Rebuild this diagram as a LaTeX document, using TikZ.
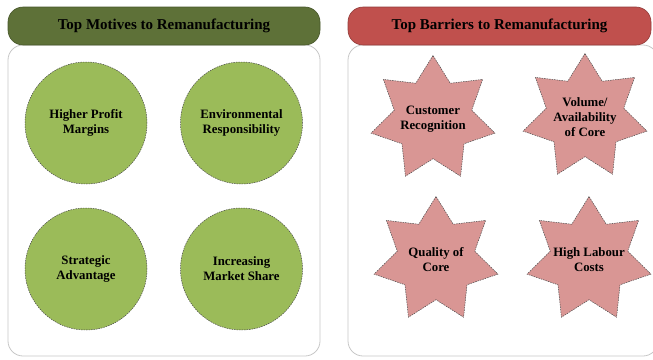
\documentclass[tikz,border=0pt]{standalone}
\usepackage{fontspec}
\setmainfont{Liberation Serif}
\usepackage{xcolor}
\usepackage{tikz}
\usetikzlibrary{shapes.geometric}

\definecolor{motivebar}{RGB}{94,113,56}
\definecolor{barrierbar}{RGB}{192,80,77}
\definecolor{motivefill}{RGB}{155,187,89}
\definecolor{barrierfill}{RGB}{217,150,148}

\begin{document}
\begin{tikzpicture}[x=1pt,y=-1pt,
    panel/.style={draw=black!22,line width=0.8pt,rounded corners=15pt,fill=white},
    titlebar/.style={draw=#1!75!black,fill=#1,line width=0.6pt,rounded corners=15pt,
      minimum height=38pt,inner sep=0pt,font=\bfseries\fontsize{15}{18}\selectfont},
    boldtext/.style={inner sep=0pt,align=center,font=\bfseries\fontsize{12.8}{15}\selectfont},
    outline/.style={line width=0.5pt,draw=black!70,dash pattern=on 1.5pt off 1pt},
    motive/.style={boldtext,outline,circle,fill=motivefill,minimum size=122pt},
    barrier/.style={outline,star,star points=7,star point ratio=1.6,fill=barrierfill,
      inner sep=0pt,minimum size=127pt}]
  \useasboundingbox (0,0) rectangle (653,359);

  % the two panels
  \draw[panel] (8,45) rectangle (320,356);
  \draw[panel] (348,45) rectangle (658,356);
  \node (motives) [titlebar=motivebar,minimum width=312pt] at (164,26) {Top Motives to Remanufacturing};
  \node (barriers) [titlebar=barrierbar,minimum width=303pt] at (499.5,26) {Top Barriers to Remanufacturing};

  % motives
  \foreach \n/\x/\y/\t in {profit/86/123/{Higher Profit\\Margins},
                           environment/241.5/123/{Environmental\\Responsibility},
                           strategic/86/269/{Strategic\\Advantage},
                           market/241.5/269/{Increasing\\Market Share}}
    {\node (\n) [motive] at (\x,\y) {\t};}

  % barriers (text as a centre label, so the star keeps its size)
  \foreach \n/\x/\y/\t in {customer/433/119/{Customer\\Recognition},
                           volume/585/117/{Volume/\\Availability\\of Core},
                           quality/436/260/{Quality of\\Core},
                           labour/589/260/{High Labour\\Costs}}
    {\node (\n) [barrier,label={[boldtext]center:\t}] at (\x,\y) {};}
\end{tikzpicture}
\end{document}
